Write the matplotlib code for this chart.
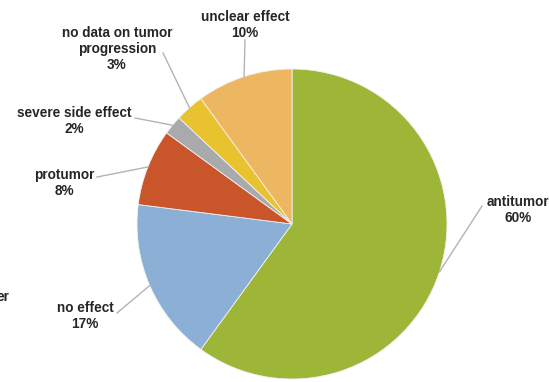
import numpy as np
import matplotlib
matplotlib.use("Agg")
import matplotlib.pyplot as plt

# slices, clockwise from 12 o'clock
labels = ["antitumor", "no effect", "protumor", "severe side effect",
          "no data on tumor\nprogression", "unclear effect"]
shares = [60, 17, 8, 2, 3, 10]
colors = ["#9db638", "#8cafd6", "#c9552b", "#a9aaac", "#e9c22f", "#edb660"]

# label block centre and leader-line end, in image pixels (x right, y down)
label_pos = [(518, 210), (85, 316), (64, 183), (74, 121), (117, 49), (245, 25)]
line_end = [(482, 206), (117, 313), (97, 177), (135, 118), (163, 53), (245, 40)]

W, H = 549, 382
cx, cy, r = 292, 224, 155

plt.rcParams['font.family'] = ['Liberation Sans', 'DejaVu Sans']
fig = plt.figure(figsize=(W / 100, H / 100), dpi=100)
ax = fig.add_axes([0, 0, 1, 1])
ax.set_xlim(0, W)
ax.set_ylim(0, H)
ax.set_aspect('equal')
ax.axis('off')

ax.pie(shares, colors=colors, startangle=90, counterclock=False,
       center=(cx, H - cy), radius=r, frame=True,
       wedgeprops=dict(linewidth=0.6, edgecolor="#f2f2f2"))
ax.set_xlim(0, W)
ax.set_ylim(0, H)
ax.axis('off')

cum = np.cumsum([0] + shares[:-1])
for i, lab in enumerate(labels):
    mid = np.deg2rad((cum[i] + shares[i] / 2) / 100 * 360)
    sx = cx + r * np.sin(mid)
    sy = cy - r * np.cos(mid)
    ex, ey = line_end[i]
    ax.plot([sx, ex], [H - sy, H - ey], color="#b3b3b3", lw=1, zorder=3)
    tx, ty = label_pos[i]
    ax.text(tx, H - ty, "%s\n%d%%" % (lab, shares[i]), ha='center', va='center',
            fontsize=9.8, fontweight='bold', color="#262626", linespacing=1.2)

# fragment of a label cut off at the left border
ax.text(9, H - 297, "er", ha='right', va='center', fontsize=9.8,
        fontweight='bold', color="#262626")

fig.savefig("out.png", dpi=100)
